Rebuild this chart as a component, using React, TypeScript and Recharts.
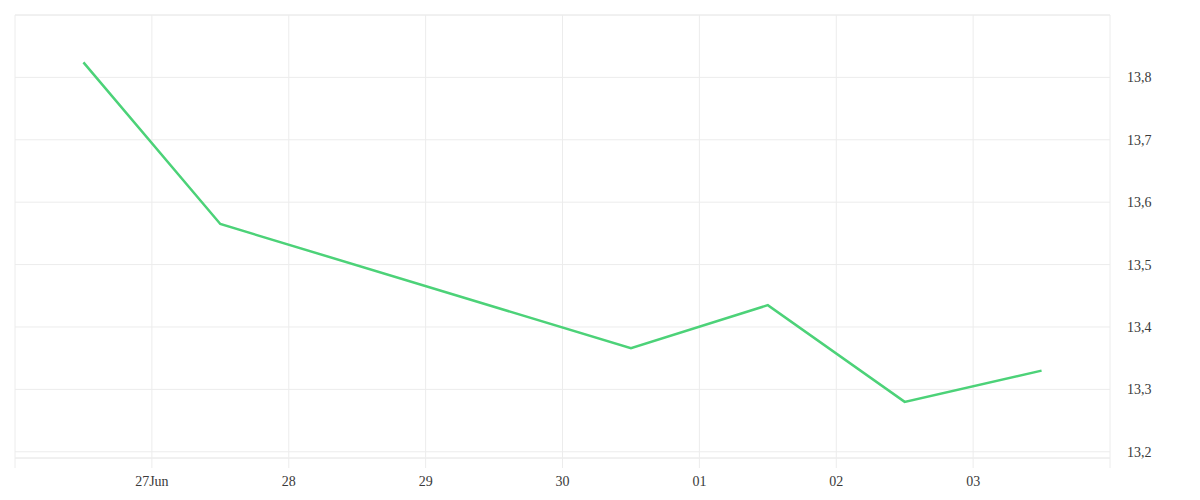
import { CartesianGrid, Line, LineChart, ReferenceLine, XAxis, YAxis } from "recharts"

// x position is in day slots: tick 1 = 27 Jun ... tick 7 = 03 Jul, points sit mid-day
const dayPos = [0.5, 1.5, 4.5, 5.5, 6.5, 7.5]
const rates = [13.824, 13.565, 13.366, 13.435, 13.28, 13.33]
const dayTicks = [0, 1, 2, 3, 4, 5, 6, 7, 8]
const dayLabels = ["", "27Jun", "28", "29", "30", "01", "02", "03", ""]
const rateTicks = [13.2, 13.3, 13.4, 13.5, 13.6, 13.7, 13.8]

const data = dayPos.map((x, i) => ({ x, rate: rates[i] }))

const gridColor = "#ececec"
const labelStyle = { fill: "#3a3a3a", fontSize: 14, fontFamily: "Liberation Serif, serif" }

export default function App() {
  return (
    <LineChart
      width={1184}
      height={484}
      data={data}
      margin={{ top: 7, right: 0, bottom: 4, left: 7 }}
    >
      <CartesianGrid stroke={gridColor} strokeWidth={1} />
      <ReferenceLine y={13.9} stroke={gridColor} />
      <ReferenceLine y={13.19} stroke={gridColor} />
      <XAxis
        dataKey="x"
        type="number"
        domain={[0, 8]}
        ticks={dayTicks}
        tickFormatter={(v) => dayLabels[v]}
        interval={0}
        height={30}
        axisLine={false}
        tickLine={{ stroke: gridColor }}
        tickSize={10}
        tickMargin={8}
        tick={labelStyle}
      />
      <YAxis
        orientation="right"
        type="number"
        domain={[13.19, 13.9]}
        ticks={rateTicks}
        tickFormatter={(v) => v.toFixed(1).replace(".", ",")}
        width={82}
        axisLine={false}
        tickLine={false}
        tickMargin={11}
        tick={labelStyle}
        allowDataOverflow
      />
      <Line
        type="linear"
        dataKey="rate"
        stroke="#4cd278"
        strokeWidth={2.5}
        dot={false}
        isAnimationActive={false}
      />
    </LineChart>
  )
}
